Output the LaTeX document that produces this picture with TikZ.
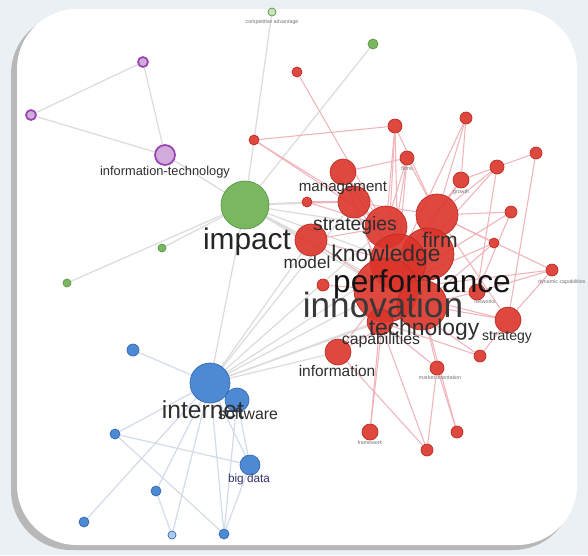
\documentclass[tikz,border=0pt]{standalone}
\usepackage{fontspec}
\setmainfont{Liberation Sans}
\definecolor{vred}{HTML}{DC352B}
\definecolor{vgreen}{HTML}{6BB04F}
\definecolor{vblue}{HTML}{3B7DD0}
\definecolor{vpurple}{HTML}{9A44B4}
\definecolor{redge}{HTML}{F0B4BA}
\definecolor{bedge}{HTML}{D2DCEA}
\definecolor{gedge}{HTML}{DCDCDC}
\definecolor{frameclr}{HTML}{EBF0F5}
\pgfdeclarelayer{bg}
\pgfdeclarelayer{edges}
\pgfsetlayers{bg,edges,main}
\tikzset{
  kw/.style={circle, inner sep=0pt, minimum size=#1*0.04cm},
  rd/.style={kw=#1, fill=vred, draw=vred!85!black, fill opacity=0.9},
  gr/.style={kw=#1, fill=vgreen, draw=vgreen!85!black, fill opacity=0.9},
  bl/.style={kw=#1, fill=vblue, draw=vblue!85!black, fill opacity=0.9},
  pu/.style={kw=#1, fill=vpurple!45, draw=vpurple, line width=1pt},
  lbl/.style={inner sep=0pt, text=black!82, font=\fontsize{#1}{#1}\selectfont},
  tinylbl/.style={inner sep=0pt, text=black!55, font=\fontsize{3}{3}\selectfont},
  redline/.style={draw=redge, line width=0.6pt},
  blueline/.style={draw=bedge, line width=0.7pt},
  greyline/.style={draw=gedge, line width=0.7pt}
}
\begin{document}
\begin{tikzpicture}[x=0.02cm, y=-0.02cm]
  \useasboundingbox (0,0) rectangle (588,555);
  \begin{pgfonlayer}{bg}
    \fill[frameclr] (0,0) rectangle (588,555);
    \fill[black!28, rounded corners=1.2cm] (11,14) rectangle (573,550);
    \fill[white, rounded corners=1.2cm] (17,9) rectangle (577,545);
  \end{pgfonlayer}
  % purple cluster
  \node[pu=5] (cloud) at (143,62) {};
  \node[pu=5] (ecomm) at (31,115) {};
  \node[pu=10] (itech) at (165,155) {};
  % green cluster
  \node[gr=24] (impact) at (245,205) {};
  \node[gr=4] (g1) at (162,248) {};
  \node[gr=4] (g2) at (67,283) {};
  \node[gr=4, fill=vgreen!40] (compadv) at (272,12) {};
  \node[gr=5] (g4) at (373,44) {};
  % red cluster
  \node[rd=5] (rtop) at (297,72) {};
  \node[rd=5] (r1) at (254,140) {};
  \node[rd=7] (r2) at (395,126) {};
  \node[rd=6] (r3) at (466,118) {};
  \node[rd=7] (firms) at (407,158) {};
  \node[rd=6] (r5) at (536,153) {};
  \node[rd=7] (r6) at (497,167) {};
  \node[rd=8] (growth) at (461,180) {};
  \node[rd=13] (r7) at (343,172) {};
  \node[rd=5] (r8) at (307,202) {};
  \node[rd=16] (mgmt) at (354,202) {};
  \node[rd=6] (r9) at (511,212) {};
  \node[rd=21] (firm) at (437,215) {};
  \node[rd=5] (r10) at (494,243) {};
  \node[rd=21] (strat) at (386,227) {};
  \node[rd=16] (model) at (311,240) {};
  \node[rd=26] (firmb) at (428,254) {};
  \node[rd=28] (know) at (398,262) {};
  \node[rd=32] (perf) at (386,290) {};
  \node[rd=25] (innov) at (422,305) {};
  \node[rd=6] (small) at (323,285) {};
  \node[rd=6] (dyn) at (552,270) {};
  \node[rd=8] (nets) at (477,292) {};
  \node[rd=13] (tech) at (380,322) {};
  \node[rd=13] (strategy) at (508,320) {};
  \node[rd=6] (r11) at (480,356) {};
  \node[rd=13] (info) at (338,352) {};
  \node[rd=7] (mo) at (437,368) {};
  \node[rd=8] (fw) at (370,432) {};
  \node[rd=6] (r12) at (457,432) {};
  \node[rd=6] (r13) at (427,450) {};
  % blue cluster
  \node[bl=20] (internet) at (210,383) {};
  \node[bl=12] (soft) at (237,400) {};
  \node[bl=6] (b1) at (133,350) {};
  \node[bl=5] (b2) at (115,434) {};
  \node[bl=10] (bigdata) at (250,465) {};
  \node[bl=5] (b4) at (156,491) {};
  \node[bl=5] (b5) at (84,522) {};
  \node[bl=4, fill=vblue!45] (b6) at (172,535) {};
  \node[bl=5] (b7) at (224,534) {};
  % links
  \begin{pgfonlayer}{edges}
    \foreach \a/\b in {cloud/ecomm, cloud/itech, ecomm/itech, itech/impact,
        impact/g1, impact/g2, compadv/r1, g4/impact, impact/r1, impact/r8,
        impact/mgmt, impact/strat, impact/model, impact/know, impact/perf,
        impact/innov, internet/impact, internet/model, internet/strat,
        internet/perf, internet/innov, internet/info, internet/know,
        internet/mgmt, internet/tech}
      \draw[greyline] (\a) -- (\b);
    \foreach \a/\b in {rtop/strat, r1/r2, r1/mgmt, r1/strat, mgmt/strat,
        mgmt/know, mgmt/firm, mgmt/perf, r7/strat, r7/firms, r7/know,
        r2/strat, r2/know, r2/perf, r3/firm, r3/know, firms/perf, firms/strat,
        firms/firm, growth/firm, growth/perf, growth/know, r6/firm, r6/perf,
        r6/nets, r5/strategy, r5/r6, r9/firm, r9/perf, r10/perf, r10/firm,
        dyn/perf, dyn/firm, dyn/strategy, nets/perf, nets/innov,
        strategy/innov, strategy/firm, strategy/perf, r11/tech, r11/perf,
        mo/tech, mo/innov, fw/tech, fw/perf, r12/mo, r12/innov, r13/mo,
        r13/info, r13/tech, info/perf, info/innov, small/perf, model/perf,
        model/know, model/strat, tech/perf, know/perf, innov/perf, firm/know,
        r8/mgmt, r8/strat, growth/r6, r3/growth, r9/nets, r10/innov,
        firms/know, r2/firm, r7/perf, dyn/nets, r11/strategy}
      \draw[redline] (\a) -- (\b);
    \foreach \a/\b in {internet/b1, internet/b2, internet/bigdata, internet/b4,
        internet/b5, internet/b6, internet/b7, soft/bigdata, soft/b7,
        b2/bigdata, bigdata/b7, b4/b6, b2/b7, internet/soft}
      \draw[blueline] (\a) -- (\b);
  \end{pgfonlayer}
  % labels
  \node[lbl=9] (l-soft) at (248,414) {software};
  \node[lbl=17, text=black!85] (l-impact) at (247,242) {impact};
  \node[lbl=14] (l-internet) at (203,410) {internet};
  \node[lbl=7.3] (l-itech) at (165,172) {information-technology};
  \node[lbl=6.7, text=blue!30!black!80] (l-bigdata) at (249,479) {big data};
  \node[lbl=8.6] (l-mgmt) at (343,188) {management};
  \node[lbl=11] (l-strat) at (355,225) {strategies};
  \node[lbl=12] (l-firm) at (440,240) {firm};
  \node[lbl=9.8] (l-model) at (307,262) {model};
  \node[lbl=13] (l-know) at (386,256) {knowledge};
  \node[lbl=18, text=black!92] (l-perf) at (422,284) {performance};
  \node[lbl=20, text=black!78] (l-innov) at (383,305) {innovation};
  \node[lbl=13] (l-tech) at (424,330) {technology};
  \node[lbl=9] (l-cap) at (381,340) {capabilities};
  \node[lbl=8.8] (l-info) at (337,371) {information};
  \node[lbl=8] (l-strategy) at (507,337) {strategy};
  \node[tinylbl] (l-compadv) at (272,22) {competitive advantage};
  \node[tinylbl] (l-firms) at (407,169) {firms};
  \node[tinylbl] (l-growth) at (461,192) {growth};
  \node[tinylbl] (l-nets) at (485,302) {networks};
  \node[tinylbl] (l-dyn) at (562,282) {dynamic capabilities};
  \node[tinylbl] (l-mo) at (440,378) {market orientation};
  \node[tinylbl] (l-fw) at (370,443) {framework};
\end{tikzpicture}
\end{document}
